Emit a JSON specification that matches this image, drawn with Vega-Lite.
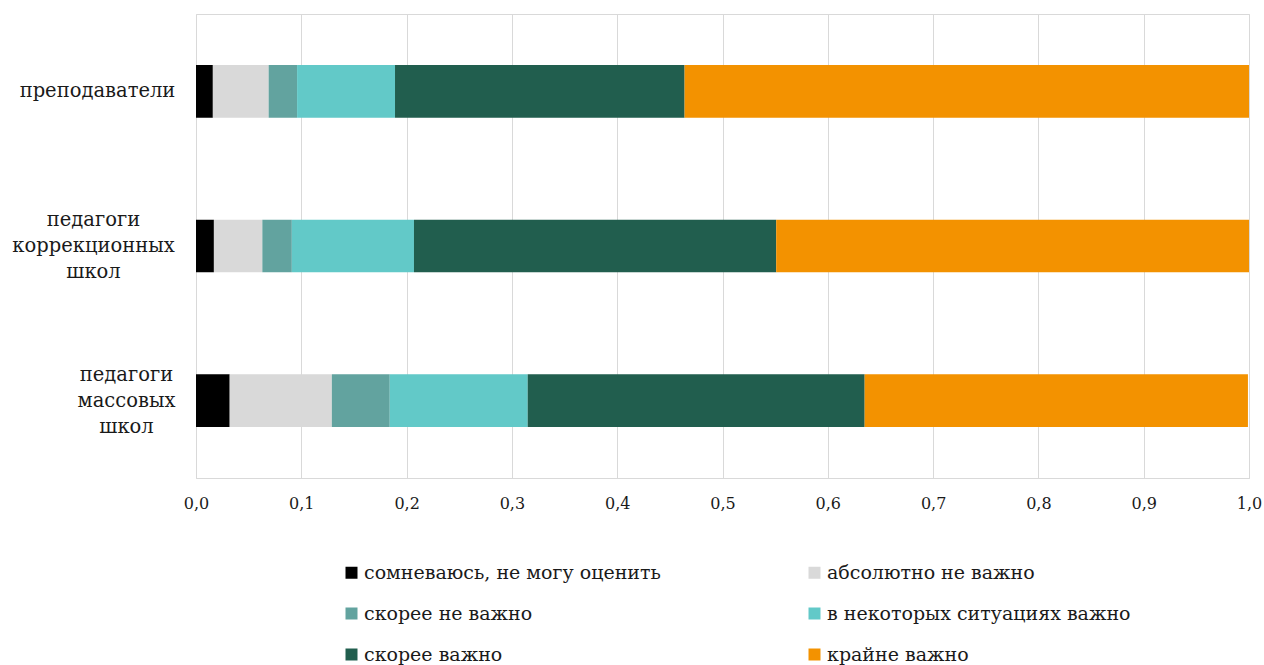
{
  "$schema": "https://vega.github.io/schema/vega-lite/v6.json",
  "autosize": {"type": "none"},
  "width": 1053,
  "height": 464,
  "padding": {"left": 196, "top": 14, "right": 15, "bottom": 187},
  "background": "white",
  "config": {
    "font": "DejaVu Serif",
    "view": {"stroke": "#d9d9d9", "strokeWidth": 1}
  },
  "data": {
    "values": [
      {"group": "преподаватели", "cat": "сомневаюсь, не могу оценить", "k": 1, "v": 0.016},
      {"group": "преподаватели", "cat": "абсолютно не важно", "k": 2, "v": 0.053},
      {"group": "преподаватели", "cat": "скорее не важно", "k": 3, "v": 0.027},
      {"group": "преподаватели", "cat": "в некоторых ситуациях важно", "k": 4, "v": 0.093},
      {"group": "преподаватели", "cat": "скорее важно", "k": 5, "v": 0.275},
      {"group": "преподаватели", "cat": "крайне важно", "k": 6, "v": 0.536},
      {"group": "педагоги коррекционных школ", "cat": "сомневаюсь, не могу оценить", "k": 1, "v": 0.017},
      {"group": "педагоги коррекционных школ", "cat": "абсолютно не важно", "k": 2, "v": 0.046},
      {"group": "педагоги коррекционных школ", "cat": "скорее не важно", "k": 3, "v": 0.028},
      {"group": "педагоги коррекционных школ", "cat": "в некоторых ситуациях важно", "k": 4, "v": 0.116},
      {"group": "педагоги коррекционных школ", "cat": "скорее важно", "k": 5, "v": 0.344},
      {"group": "педагоги коррекционных школ", "cat": "крайне важно", "k": 6, "v": 0.449},
      {"group": "педагоги массовых школ", "cat": "сомневаюсь, не могу оценить", "k": 1, "v": 0.032},
      {"group": "педагоги массовых школ", "cat": "абсолютно не важно", "k": 2, "v": 0.097},
      {"group": "педагоги массовых школ", "cat": "скорее не важно", "k": 3, "v": 0.055},
      {"group": "педагоги массовых школ", "cat": "в некоторых ситуациях важно", "k": 4, "v": 0.131},
      {"group": "педагоги массовых школ", "cat": "скорее важно", "k": 5, "v": 0.320},
      {"group": "педагоги массовых школ", "cat": "крайне важно", "k": 6, "v": 0.364}
    ]
  },
  "mark": {"type": "bar"},
  "encoding": {
    "y": {
      "field": "group",
      "type": "nominal",
      "sort": ["преподаватели", "педагоги коррекционных школ", "педагоги массовых школ"],
      "scale": {"paddingInner": 0.66, "paddingOuter": 0.33},
      "axis": {
        "title": null,
        "domain": false,
        "ticks": false,
        "tickSize": 0,
        "grid": false,
        "labelFont": "DejaVu Serif",
        "labelFontSize": 19.5,
        "labelColor": "#1a1a1a",
        "labelAlign": "center",
        "labelBaseline": "middle",
        "labelLineHeight": 26,
        "labelLimit": 300,
        "labelOffset": {
          "condition": {"test": "datum.value != 'преподаватели'", "value": -26},
          "value": 0
        },
        "labelPadding": {
          "condition": [
            {"test": "datum.value == 'педагоги массовых школ'", "value": 70},
            {"test": "datum.value == 'педагоги коррекционных школ'", "value": 103}
          ],
          "value": 99
        },
        "labelExpr": "datum.label == 'преподаватели' ? datum.label : split(datum.label, ' ')"
      }
    },
    "x": {
      "field": "v",
      "type": "quantitative",
      "stack": "zero",
      "scale": {"domain": [0, 1], "nice": false},
      "axis": {
        "title": null,
        "values": [0, 0.1, 0.2, 0.3, 0.4, 0.5, 0.6, 0.7, 0.8, 0.9, 1.0],
        "labelExpr": "replace(format(datum.value, '.1f'), '.', ',')",
        "grid": true,
        "gridColor": "#d9d9d9",
        "gridWidth": 1,
        "domainColor": "#d9d9d9",
        "ticks": false,
        "tickSize": 0,
        "labelFont": "DejaVu Serif",
        "labelFontSize": 16,
        "labelColor": "#1a1a1a",
        "labelPadding": 17,
        "labelFlush": false
      }
    },
    "color": {
      "field": "cat",
      "type": "nominal",
      "scale": {
        "domain": ["сомневаюсь, не могу оценить", "абсолютно не важно", "скорее не важно", "в некоторых ситуациях важно", "скорее важно", "крайне важно"],
        "range": ["#000000", "#d9d9d9", "#62a39f", "#62c9c8", "#215e4e", "#f39200"]
      },
      "legend": {
        "title": null,
        "orient": "none",
        "legendX": 146,
        "legendY": 549,
        "columns": 2,
        "direction": "horizontal",
        "columnPadding": 144,
        "rowPadding": 21,
        "symbolType": "square",
        "symbolSize": 144,
        "symbolStrokeWidth": 0,
        "labelFont": "DejaVu Serif",
        "labelFontSize": 19,
        "labelColor": "#1a1a1a",
        "labelOffset": 3,
        "labelLimit": 400
      }
    },
    "order": {"field": "k", "type": "quantitative"}
  }
}
